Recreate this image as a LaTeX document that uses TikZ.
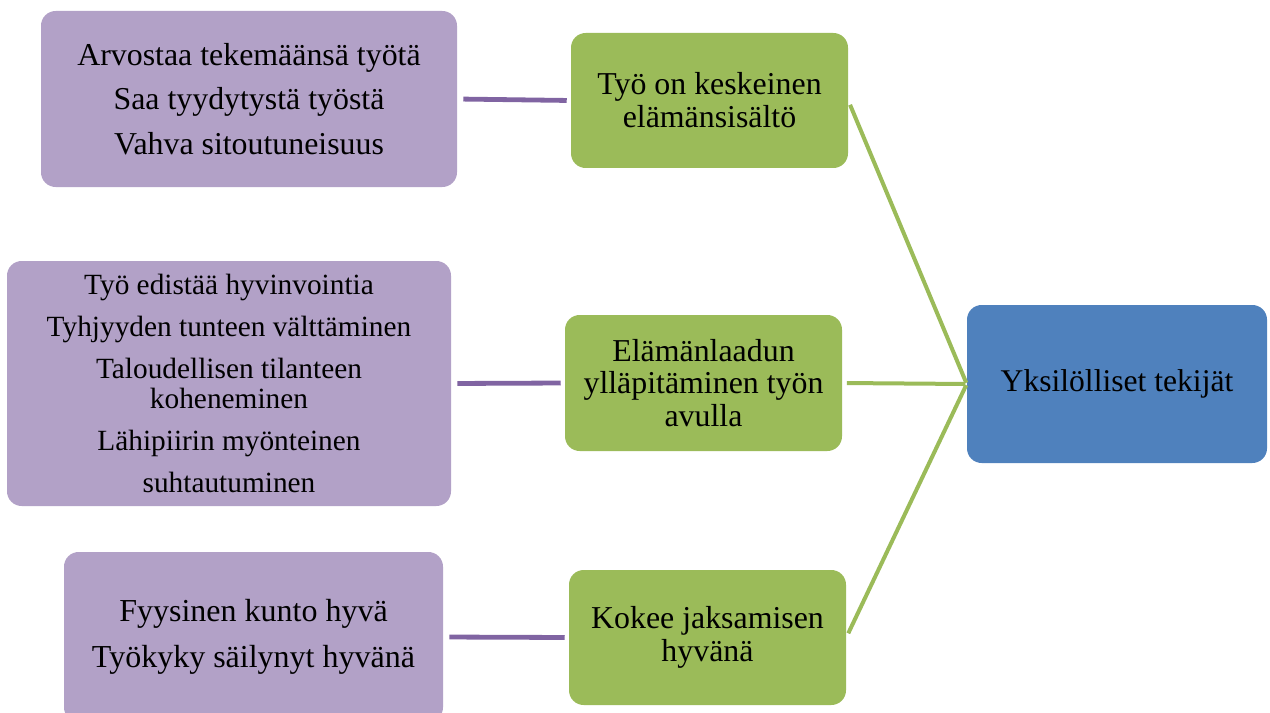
\documentclass[tikz,border=0pt]{standalone}
\usepackage{fontspec}
\setmainfont{Liberation Serif}
\definecolor{lilac}{HTML}{B2A1C7}
\definecolor{lilacline}{HTML}{8064A2}
\definecolor{leaf}{HTML}{9BBB59}
\definecolor{steel}{HTML}{4F81BD}
\tikzset{
  box/.style={rounded corners=11pt, inner sep=0pt, align=center, text=black},
  itembox/.style={box, fill=lilac},
  themebox/.style={box, fill=leaf},
  corebox/.style={box, fill=steel},
  itemlink/.style={draw=lilacline, line width=3.6pt, shorten <=4.5pt, shorten >=3pt},
  themelink/.style={draw=leaf, line width=3pt, shorten <=3.5pt, shorten >=1pt},
}
\begin{document}
\begin{tikzpicture}[x=0.75pt, y=-0.75pt]
\useasboundingbox (0,0) rectangle (1270,713);
\clip (0,0) rectangle (1270,713);

% central factor
\node[corebox, minimum width=225pt, minimum height=118.5pt,
      font=\fontsize{23.7}{26}\selectfont] (core) at (1117,384) {Yksilölliset tekijät};

% themes
\node[themebox, minimum width=207.75pt, minimum height=101.25pt,
      font=\fontsize{23.9}{24.75}\selectfont] (t1) at (709.5,100.5)
  {Työ on keskeinen\\elämänsisältö};
\node[themebox, minimum width=207.75pt, minimum height=102pt,
      font=\fontsize{23.9}{24.4}\selectfont] (t2) at (703.5,383)
  {Elämänlaadun\\ylläpitäminen työn\\avulla};
\node[themebox, minimum width=207.75pt, minimum height=101.25pt,
      font=\fontsize{23.9}{24.75}\selectfont] (t3) at (707.5,637.5)
  {Kokee jaksamisen\\hyvänä};

% details
\node[itembox, minimum width=312pt, minimum height=132pt,
      font=\fontsize{23.9}{33.5}\selectfont] (d1) at (249,99)
  {Arvostaa tekemäänsä työtä\\Saa tyydytystä työstä\\Vahva sitoutuneisuus};
\node[itembox, minimum width=333pt, minimum height=183.75pt,
      font=\fontsize{22}{22.5}\selectfont] (d2) at (229,383.5)
  {Työ edistää hyvinvointia\\[9pt]Tyhjyyden tunteen välttäminen\\[9pt]Taloudellisen tilanteen\\koheneminen\\[9pt]Lähipiirin myönteinen\\[9pt]suhtautuminen};
\node[itembox, minimum width=284.25pt, minimum height=127.5pt,
      font=\fontsize{24}{35}\selectfont] (d3) at (253.5,637)
  {Fyysinen kunto hyvä\\Työkyky säilynyt hyvänä};

% links from details to themes
\draw[itemlink] (d1.east) -- (t1.west);
\draw[itemlink] (d2.east) -- (t2.west);
\draw[itemlink] (d3.east) -- (t3.west);

% links from themes to the central factor
\draw[themelink] (t1.east) -- (core.west);
\draw[themelink] (t2.east) -- (core.west);
\draw[themelink] (t3.east) -- (core.west);
\end{tikzpicture}
\end{document}
